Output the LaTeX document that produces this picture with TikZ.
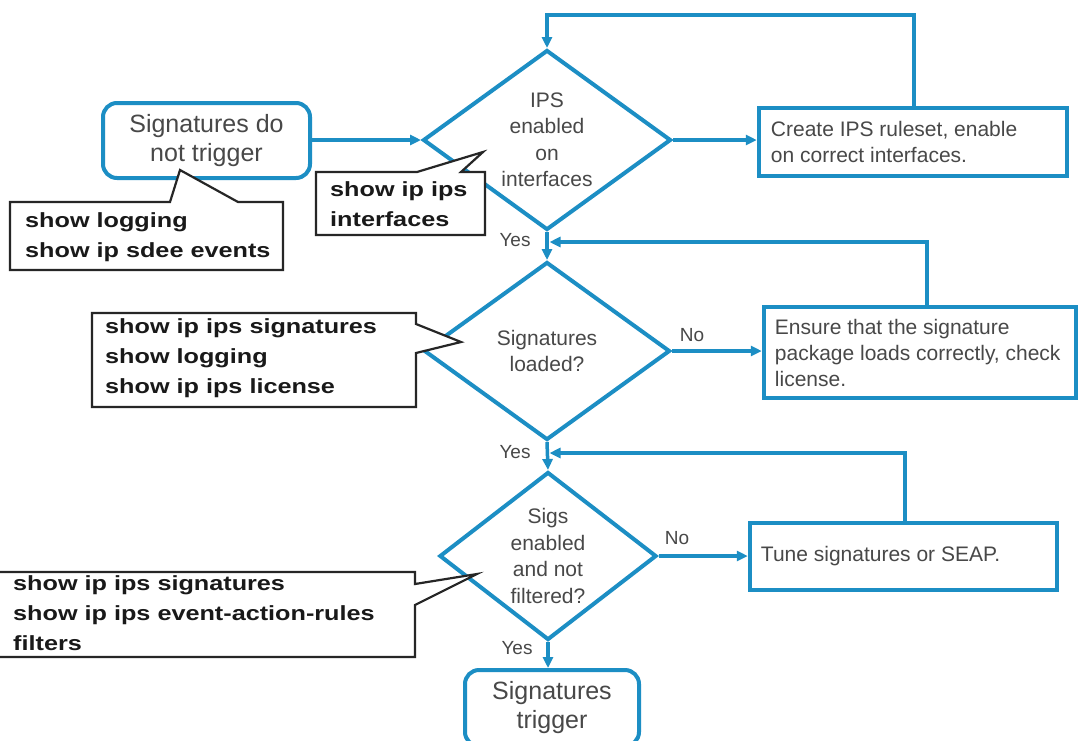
\documentclass[tikz,border=0pt]{standalone}
\usepackage{fontspec}
\setmainfont{Liberation Sans}
\newfontfamily\cmdfont[FakeStretch=1.23]{Liberation Sans}
\usetikzlibrary{shapes.geometric,arrows.meta,calc}
\definecolor{cblue}{RGB}{28,142,196}
\definecolor{tgray}{RGB}{72,72,72}
\definecolor{cmdcol}{RGB}{25,25,25}
\begin{document}
\begin{tikzpicture}[x=1pt,y=-1pt,
  dia/.style={diamond, draw=cblue, line width=4pt, inner sep=0pt},
  dtext/.style={align=center, text=tgray, inner sep=0pt, font=\fontsize{21}{26.5}\selectfont},
  termbox/.style={draw=cblue, line width=4pt, rounded corners=14pt, align=center, text=tgray, inner sep=0pt, font=\fontsize{25}{29}\selectfont},
  actbox/.style={draw=cblue, line width=4.5pt, inner sep=0pt},
  acttext/.style={align=left, text=tgray, inner sep=0pt, anchor=west, font=\fontsize{21}{26}\selectfont},
  lbl/.style={text=tgray, inner sep=0pt, font=\fontsize{19}{22}\selectfont},
  conn/.style={draw=cblue, line width=3.5pt, -{Triangle[length=11pt,width=10pt]}},
  callout/.style={draw=black!85, line width=2.2pt, fill=white, line join=miter},
  cmdtext/.style={align=left, text=cmdcol, inner sep=0pt, anchor=west, font=\cmdfont\bfseries\fontsize{20.5}{30}\selectfont}
]
\useasboundingbox (0,0) rectangle (1081,740);
\clip (0,0) rectangle (1081,740);
\fill[white] (0,0) rectangle (1081,740);

% decision diamonds
\node[dia, minimum width=248pt, minimum height=180pt] (d1) at (547,140) {};
\node[dia, minimum width=246pt, minimum height=178pt] (d2) at (547,351) {};
\node[dia, minimum width=217pt, minimum height=168pt] (d3) at (548,556) {};
\node[dtext] (d1t) at (d1) {IPS\\enabled\\on\\interfaces};
\node[dtext] (d2t) at (d2) {Signatures\\loaded?};
\node[dtext] (d3t) at (d3) {Sigs\\enabled\\and not\\filtered?};

% terminals
\node[termbox, minimum width=207pt, minimum height=75pt] (start) at (206.5,140.5) {Signatures do\\not trigger};
\node[termbox, minimum width=174pt, minimum height=76pt] (endbox) at (552,708) {Signatures\\trigger};

% action boxes
\node[actbox, minimum width=308pt, minimum height=68pt] (create) at (913,142) {};
\node[acttext] (createt) at ([xshift=14pt]create.west) {Create IPS ruleset, enable\\on correct interfaces.};
\node[actbox, minimum width=312pt, minimum height=91pt] (ensure) at (920,352.5) {};
\node[acttext] (ensuret) at ([xshift=13pt]ensure.west) {Ensure that the signature\\package loads correctly, check\\license.};
\node[actbox, minimum width=307pt, minimum height=67pt] (tune) at (903.5,556.5) {};
\node[acttext] (tunet) at ([xshift=13pt]tune.west) {Tune signatures or SEAP.};

% merge points
\coordinate (lt) at (547,15);
\coordinate (m1) at (549.5,242);
\coordinate (m2) at (549.5,453);

% connectors
\draw[conn] (start.east |- d1.west) -- (d1.west);
\draw[conn] (d1.east) -- (d1.east -| create.west);
\draw[conn] (d1.south) -- (d2.north);
\draw[conn] (d2.east) -- (d2.east -| ensure.west);
\draw[conn] (d2.south) -- (d3.north);
\draw[conn] (d3.east) -- (d3.east -| tune.west);
\draw[conn] (d3.south) -- (d3.south |- endbox.north);
\draw[conn] ([xshift=1pt]create.north) |- (lt) -- (d1.north);
\draw[conn] ([xshift=7pt]ensure.north) |- (m1);
\draw[conn] ([xshift=1.5pt]tune.north) |- (m2);

% branch labels
\node[lbl] (y1) at (515,240) {Yes};
\node[lbl] (y2) at (515,452) {Yes};
\node[lbl] (y3) at (517,648) {Yes};
\node[lbl] (n2) at (692,335) {No};
\node[lbl] (n3) at (677,538) {No};

% callouts
\draw[callout] (10,202) -- (170,202) -- (180,170) -- (238,202) -- (283,202) -- (283,270) -- (10,270) -- cycle;
\node[cmdtext] (c1) at (25,237) {show logging\\show ip sdee events};

\draw[callout] (316,172) -- (417,172) -- (483,152) -- (461,172) -- (485,172) -- (485,235) -- (316,235) -- cycle;
\node[cmdtext] (c2) at (330,204) {show ip ips\\interfaces};

\draw[callout] (92,313) -- (416,313) -- (416,324) -- (461,342) -- (416,353) -- (416,407) -- (92,407) -- cycle;
\node[cmdtext] (c3) at (105,358.5) {show ip ips signatures\\show logging\\show ip ips license};

\draw[callout] (-5,572) -- (415,572) -- (415,584) -- (477,574) -- (415,605) -- (415,657) -- (-5,657) -- cycle;
\node[cmdtext] (c4) at (13,613) {show ip ips signatures\\show ip ips event-action-rules\\filters};
\end{tikzpicture}
\end{document}
